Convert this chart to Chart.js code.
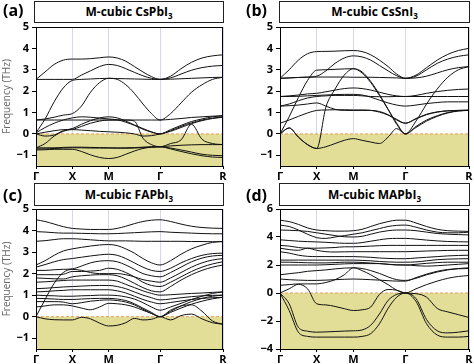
<!DOCTYPE html>
<html>
<head>
<meta charset="utf-8">
<script src="https://cdn.jsdelivr.net/npm/chart.js@4.4.0/dist/chart.umd.min.js"></script>
<style>
  body { margin: 0; width: 474px; height: 364px; background: #fff; position: relative; overflow: hidden; font-family: "Open Sans", sans-serif; }
  canvas { position: absolute; }
  .titulo { position: absolute; border: 1px solid #222; box-sizing: border-box; text-align: center; font-weight: bold; font-size: 12px; background: #fff; color: #000; }
  .titulo sub { font-size: 8px; line-height: 0; vertical-align: -3px; }
  .letra { position: absolute; font-weight: bold; font-size: 16px; line-height: 20px; color: #000; }
</style>
</head>
<body>
<canvas id="chartA" width="229" height="165" style="left:0;top:17px"></canvas>
<canvas id="chartB" width="238" height="165" style="left:237px;top:17px"></canvas>
<canvas id="chartC" width="229" height="166" style="left:0;top:199px"></canvas>
<canvas id="chartD" width="238" height="166" style="left:237px;top:199px"></canvas>

<div class="letra" style="left:3px;top:0">(a)</div>
<div class="letra" style="left:246px;top:0">(b)</div>
<div class="letra" style="left:3px;top:185px">(c)</div>
<div class="letra" style="left:246px;top:185px">(d)</div>
<div class="titulo" style="left:34px;top:1px;width:190px;height:22px;line-height:20px">M-cubic CsPbI<sub>3</sub></div>
<div class="titulo" style="left:279px;top:1px;width:191px;height:22px;line-height:20px">M-cubic CsSnI<sub>3</sub></div>
<div class="titulo" style="left:34px;top:183px;width:190px;height:23px;line-height:21px">M-cubic FAPbI<sub>3</sub></div>
<div class="titulo" style="left:279px;top:183px;width:191px;height:23px;line-height:21px">M-cubic MAPbI<sub>3</sub></div>

<script>
// Camino de alta simetría
const kLabels = ['Γ', 'X', 'M', 'Γ', 'R'];
const kNodes = [0, 1, 2, 2 + Math.SQRT2, 2 + Math.SQRT2 + Math.sqrt(3)];
const segSteps = [4, 4, 6, 6];

// Ticks del eje y
const ticksLow = [-1, 0, 1, 2, 3, 4, 5];
const ticksMA = [-4, -2, 0, 2, 4, 6];

const bandsCsPbI3 = [
  [2.55, 2.9, 3.25, 3.45, 3.5, 3.5, 3.52, 3.56, 3.6, 3.55, 3.4, 3.15, 2.9, 2.68, 2.55, 2.7, 3.05, 3.35, 3.55, 3.65, 3.7],
  [2.55, 2.55, 2.55, 2.55, 2.55, 2.75, 2.95, 3.15, 3.25, 3.2, 3.05, 2.88, 2.72, 2.6, 2.55, 2.62, 2.8, 2.98, 3.1, 3.17, 3.2],
  [0.05, 0.7, 1.5, 2.15, 2.5, 2.55, 2.57, 2.59, 2.6, 2.59, 2.58, 2.57, 2.56, 2.55, 2.55, 2.56, 2.58, 2.6, 2.62, 2.64, 2.65],
  [0.65, 0.7, 0.78, 0.88, 0.95, 1.3, 1.95, 2.4, 2.6, 2.55, 2.3, 1.9, 1.4, 0.95, 0.65, 0.95, 1.45, 1.95, 2.3, 2.55, 2.65],
  [0.65, 0.65, 0.65, 0.65, 0.65, 0.65, 0.65, 0.65, 0.65, 0.65, 0.65, 0.65, 0.65, 0.65, 0.65, 0.68, 0.72, 0.77, 0.8, 0.83, 0.85],
  [0.0, -0.1, -0.05, 0.15, 0.25, 0.45, 0.62, 0.75, 0.8, 0.75, 0.6, 0.42, 0.25, 0.1, 0.0, 0.2, 0.4, 0.58, 0.7, 0.8, 0.85],
  [0.05, 0.3, 0.5, 0.65, 0.75, 0.8, 0.78, 0.74, 0.7, 0.66, 0.55, 0.4, 0.22, 0.08, 0.0, 0.15, 0.35, 0.52, 0.65, 0.74, 0.8],
  [-0.65, -0.45, -0.1, 0.12, 0.2, 0.18, 0.15, 0.12, 0.1, 0.08, 0.05, 0.0, -0.1, -0.08, 0.0, 0.12, 0.3, 0.48, 0.62, 0.72, 0.78],
  [0.0, 0.08, 0.15, 0.2, 0.22, 0.35, 0.5, 0.6, 0.65, 0.65, 0.65, 0.6, -0.2, -0.5, -0.6, -0.45, -0.28, 0.45, -0.25, -0.45, -0.5],
  [-0.65, -0.65, -0.65, -0.63, -0.62, -0.62, -0.63, -0.64, -0.65, -0.66, -0.67, -0.66, -0.64, -0.62, -0.6, -0.56, -0.53, -0.51, -0.5, -0.5, -0.5],
  [-0.75, -0.74, -0.72, -0.72, -0.72, -0.82, -0.98, -1.1, -1.15, -1.1, -0.95, -0.8, -0.68, -0.62, -0.6, -0.7, -0.82, -0.93, -1.02, -1.08, -1.1],
  [-0.7, -0.7, -0.68, -0.66, -0.65, -0.65, -0.66, -0.66, -0.66, -0.66, -0.65, -0.64, -0.62, -0.6, -0.6, -0.66, -0.75, -0.85, -0.95, -1.0, -1.02]
];

const bandsCsSnI3 = [
  [2.6, 3.0, 3.45, 3.75, 3.85, 3.86, 3.87, 3.89, 3.9, 3.85, 3.7, 3.45, 3.15, 2.8, 2.6, 2.75, 3.1, 3.45, 3.72, 3.9, 4.0],
  [2.6, 2.62, 2.64, 2.66, 2.7, 2.95, 3.3, 3.55, 3.65, 3.6, 3.45, 3.2, 2.95, 2.72, 2.6, 2.7, 3.0, 3.3, 3.5, 3.63, 3.7],
  [2.6, 2.62, 2.64, 2.65, 2.66, 2.66, 2.66, 2.66, 2.65, 2.65, 2.65, 2.64, 2.63, 2.62, 2.6, 2.62, 2.7, 2.85, 3.0, 3.1, 3.15],
  [0.0, 0.8, 1.7, 2.5, 2.98, 3.0, 3.02, 3.04, 3.05, 2.9, 2.45, 1.85, 1.15, 0.45, 0.0, 0.6, 1.4, 2.1, 2.65, 3.0, 3.15],
  [0.0, 0.28, -0.15, -0.5, -0.68, 1.25, 2.1, 2.75, 3.05, 2.85, 2.4, 1.8, 1.15, 0.5, 0.0, 0.35, 0.65, 0.85, 1.0, 1.08, 1.1],
  [1.75, 1.78, 1.82, 1.87, 1.9, 1.97, 2.05, 2.12, 2.15, 2.12, 2.05, 1.95, 1.85, 1.78, 1.75, 1.8, 1.9, 1.98, 2.04, 2.08, 2.1],
  [1.75, 1.75, 1.76, 1.78, 1.8, 1.82, 1.84, 1.85, 1.85, 1.82, 1.72, 1.58, 1.45, 1.35, 1.3, 1.35, 1.42, 1.47, 1.5, 1.5, 1.5],
  [1.3, 1.4, 1.55, 1.68, 1.75, 1.78, 1.8, 1.8, 1.8, 1.78, 1.75, 1.74, 1.74, 1.75, 1.75, 1.75, 1.75, 1.75, 1.75, 1.75, 1.75],
  [1.3, 1.32, 1.35, 1.4, 1.45, 1.3, 1.15, 1.1, 1.1, 1.1, 1.1, 1.05, 0.9, 0.65, 0.5, 0.7, 0.9, 1.02, 1.08, 1.1, 1.1],
  [0.5, 0.65, 0.82, 0.98, 1.1, 1.12, 1.13, 1.13, 1.12, 1.12, 1.1, 1.02, 0.88, 0.68, 0.5, 0.72, 0.92, 1.03, 1.08, 1.1, 1.12],
  [0.0, 0.28, -0.15, -0.5, -0.68, -0.6, -0.45, -0.3, -0.22, -0.3, -0.38, -0.45, -0.15, 0.25, 0.0, 0.3, 0.6, 0.82, 0.98, 1.07, 1.1]
];

const bandsFAPbI3 = [
  [4.5, 4.42, 4.3, 4.18, 4.1, 4.07, 4.05, 4.05, 4.05, 4.1, 4.2, 4.32, 4.42, 4.48, 4.5, 4.42, 4.3, 4.2, 4.14, 4.11, 4.1],
  [3.95, 3.93, 3.9, 3.88, 3.88, 3.87, 3.86, 3.85, 3.85, 3.86, 3.88, 3.9, 3.92, 3.94, 3.95, 3.92, 3.9, 3.88, 3.86, 3.85, 3.85],
  [3.5, 3.53, 3.58, 3.62, 3.62, 3.6, 3.57, 3.54, 3.52, 3.52, 3.52, 3.51, 3.5, 3.5, 3.5, 3.5, 3.5, 3.49, 3.49, 3.48, 3.48],
  [2.4, 2.6, 2.85, 3.05, 3.15, 3.22, 3.28, 3.33, 3.35, 3.3, 3.15, 2.95, 2.7, 2.5, 2.4, 2.6, 2.9, 3.15, 3.32, 3.45, 3.5],
  [2.3, 2.42, 2.55, 2.65, 2.7, 2.76, 2.82, 2.87, 2.9, 2.85, 2.7, 2.5, 2.3, 2.15, 2.1, 2.25, 2.5, 2.7, 2.85, 2.93, 2.95],
  [2.15, 2.15, 2.18, 2.2, 2.22, 2.35, 2.5, 2.58, 2.6, 2.55, 2.4, 2.2, 2.0, 1.9, 1.85, 2.05, 2.3, 2.55, 2.72, 2.82, 2.85],
  [0.0, 0.8, 1.55, 2.05, 2.2, 2.15, 2.05, 2.0, 2.0, 2.0, 1.95, 1.85, 1.72, 1.65, 1.6, 1.8, 2.05, 2.3, 2.5, 2.63, 2.7],
  [1.95, 1.95, 1.95, 1.97, 2.1, 2.1, 2.12, 2.15, 2.25, 2.2, 2.05, 1.85, 1.6, 1.45, 1.4, 1.6, 1.85, 2.1, 2.3, 2.45, 2.55],
  [1.8, 1.78, 1.76, 1.75, 1.85, 1.9, 1.93, 1.95, 1.95, 1.9, 1.75, 1.55, 1.35, 1.2, 1.15, 1.4, 1.7, 1.95, 2.15, 2.3, 2.4],
  [1.6, 1.62, 1.65, 1.68, 1.7, 1.7, 1.7, 1.7, 1.7, 1.65, 1.5, 1.35, 1.2, 1.08, 1.0, 1.02, 1.05, 1.08, 1.1, 1.13, 1.15],
  [1.3, 1.32, 1.35, 1.38, 1.4, 1.42, 1.44, 1.45, 1.45, 1.4, 1.3, 1.15, 1.0, 0.88, 0.78, 0.82, 0.88, 0.93, 0.97, 0.99, 1.0],
  [1.15, 1.17, 1.2, 1.22, 1.25, 1.25, 1.25, 1.25, 1.25, 1.2, 1.1, 0.95, 0.8, 0.68, 0.6, 0.66, 0.73, 0.8, 0.85, 0.88, 0.9],
  [1.0, 0.98, 0.97, 0.95, 0.95, 0.97, 0.98, 1.0, 1.0, 0.98, 0.92, 0.82, 0.65, 0.45, 0.3, 0.45, 0.62, 0.8, 0.95, 1.08, 1.15],
  [0.85, 0.84, 0.82, 0.8, 0.8, 0.82, 0.84, 0.85, 0.85, 0.82, 0.75, 0.6, 0.4, 0.2, 0.0, 0.25, 0.5, 0.7, 0.85, 0.95, 1.0],
  [0.7, 0.7, 0.7, 0.68, 0.6, 0.65, 0.72, 0.76, 0.78, 0.75, 0.68, 0.55, 0.35, 0.15, 0.0, 0.2, 0.4, 0.58, 0.72, 0.83, 0.9],
  [0.45, 0.5, 0.55, 0.55, 0.5, 0.4, 0.32, 0.45, 0.62, 0.6, 0.55, 0.45, 0.3, 0.15, 0.0, 0.3, 0.5, 0.55, 0.25, -0.2, -0.35],
  [0.0, -0.1, -0.14, -0.15, -0.15, -0.03, -0.1, -0.3, -0.43, -0.4, -0.28, -0.08, -0.15, -0.12, 0.0, -0.15, 0.05, 0.12, -0.1, -0.28, -0.35]
];

const bandsMAPbI3 = [
  [5.2, 5.1, 4.9, 4.65, 4.5, 4.45, 4.42, 4.42, 4.45, 4.55, 4.75, 4.95, 5.1, 5.2, 5.2, 5.0, 4.75, 4.55, 4.45, 4.42, 4.4],
  [4.85, 4.75, 4.5, 4.2, 3.95, 3.9, 4.0, 4.1, 4.2, 4.3, 4.45, 4.6, 4.75, 4.83, 4.85, 4.7, 4.5, 4.35, 4.3, 4.3, 4.35],
  [4.5, 4.48, 4.45, 4.4, 4.3, 4.2, 4.1, 4.02, 4.0, 4.05, 4.2, 4.35, 4.45, 4.5, 4.5, 4.45, 4.35, 4.25, 4.2, 4.17, 4.15],
  [3.8, 3.75, 3.7, 3.67, 3.65, 3.62, 3.58, 3.55, 3.55, 3.6, 3.7, 3.8, 3.88, 3.9, 3.9, 3.85, 3.78, 3.72, 3.68, 3.66, 3.65],
  [3.4, 3.35, 3.25, 3.2, 3.2, 3.22, 3.25, 3.3, 3.3, 3.32, 3.35, 3.38, 3.4, 3.4, 3.4, 3.4, 3.4, 3.4, 3.4, 3.4, 3.4],
  [3.2, 3.1, 3.05, 3.2, 3.05, 2.95, 2.93, 2.94, 2.95, 2.95, 2.95, 2.95, 2.95, 2.95, 2.95, 2.97, 3.0, 3.02, 3.04, 3.05, 3.05],
  [2.95, 2.85, 2.7, 2.62, 2.6, 2.6, 2.6, 2.6, 2.6, 2.58, 2.55, 2.5, 2.47, 2.45, 2.45, 2.5, 2.55, 2.6, 2.65, 2.68, 2.7],
  [2.35, 2.35, 2.35, 2.35, 2.35, 2.35, 2.35, 2.35, 2.35, 2.33, 2.3, 2.25, 2.22, 2.2, 2.2, 2.22, 2.3, 2.38, 2.42, 2.44, 2.45],
  [2.2, 2.2, 2.18, 2.16, 2.15, 2.15, 2.17, 2.2, 2.2, 2.18, 2.14, 2.1, 2.05, 2.02, 2.0, 2.05, 2.12, 2.17, 2.2, 2.2, 2.2],
  [2.0, 2.0, 2.0, 2.0, 2.0, 2.02, 2.05, 2.08, 2.1, 2.1, 2.1, 2.1, 2.05, 2.0, 2.0, 1.95, 1.92, 1.95, 2.0, 2.05, 2.1],
  [1.3, 1.38, 1.45, 1.55, 1.6, 1.65, 1.72, 1.78, 1.8, 1.75, 1.6, 1.4, 1.15, 0.95, 0.9, 1.05, 1.3, 1.5, 1.65, 1.75, 1.8],
  [1.0, 0.95, 0.92, 0.9, 0.9, 0.92, 0.95, 0.98, 1.0, 0.98, 0.95, 0.92, 0.88, 0.85, 0.85, 1.1, 1.35, 1.55, 1.68, 1.73, 1.75],
  [0.55, 0.6, 0.65, 0.65, 0.65, 0.75, 0.95, 1.3, 1.8, 1.6, 1.3, 0.95, 0.6, 0.2, 0.0, 0.3, 0.6, 0.85, 1.05, 1.18, 1.25],
  [0.0, 0.3, 0.62, 0.3, -0.77, -0.85, -0.96, -1.12, -1.25, -1.2, -1.0, -0.1, 0.25, 0.2, 0.0, -0.05, -0.3, -1.1, -1.35, -1.55, -1.75],
  [0.0, -0.77, -2.45, -2.73, -2.8, -2.78, -2.75, -2.72, -2.7, -2.64, -2.3, -1.5, -0.53, -0.1, 0.0, -0.4, -1.9, -2.7, -2.85, -2.8, -2.7],
  [0.0, -1.25, -2.8, -3.1, -3.15, -3.15, -3.15, -3.15, -3.15, -3.1, -2.9, -2.2, -1.1, -0.3, 0.0, -0.6, -2.2, -3.0, -3.15, -3.15, -3.1]
];

// posiciones k de las muestras a lo largo del camino
const kSamples = [0];
segSteps.forEach(function(n, s) {
  for (let j = 1; j <= n; j++) {
    kSamples.push(kNodes[s] + (kNodes[s + 1] - kNodes[s]) * j / n);
  }
});

Chart.defaults.font.family = '"Open Sans", sans-serif';

// marco negro alrededor del área del gráfico
const marco = {
  id: 'marco',
  afterDraw(chart) {
    const ctx = chart.ctx;
    const a = chart.chartArea;
    ctx.save();
    ctx.strokeStyle = '#000';
    ctx.lineWidth = 1;
    ctx.strokeRect(Math.round(a.left) + 0.5, Math.round(a.top) + 0.5, Math.round(a.right - a.left) - 1, Math.round(a.bottom - a.top));
    ctx.restore();
  }
};

function crearGrafico(id, bands, yMin, yMax, yTicks, conTitulo, anchoY) {
  const datasets = bands.map(function(b) {
    return {
      data: b.map(function(v, i) { return {x: kSamples[i], y: v}; }),
      borderColor: '#111',
      borderWidth: 1,
      pointRadius: 0,
      fill: false,
      cubicInterpolationMode: 'monotone'
    };
  });
  // zona amarilla de frecuencias imaginarias y línea de cero
  datasets.push({
    data: [{x: kNodes[0], y: 0}, {x: kNodes[4], y: 0}],
    borderColor: '#e99d55',
    borderWidth: 1,
    borderDash: [3, 2],
    backgroundColor: '#e2de98',
    fill: 'start',
    pointRadius: 0,
    order: 10
  });

  return new Chart(document.getElementById(id), {
    type: 'line',
    data: { datasets: datasets },
    options: {
      responsive: false,
      animation: false,
      events: [],
      layout: { padding: { top: 10, right: 6, left: 0, bottom: 0 } },
      plugins: { legend: { display: false }, tooltip: { enabled: false } },
      scales: {
        x: {
          type: 'linear',
          min: kNodes[0],
          max: kNodes[4],
          afterBuildTicks: function(s) { s.ticks = kNodes.map(function(v) { return {value: v}; }); },
          afterFit: function(s) { s.height = 16; },
          ticks: {
            autoSkip: false, maxRotation: 0, padding: 1, color: '#000',
            font: { size: 11, weight: 'bold' },
            callback: function(v, i) { return kLabels[i]; }
          },
          grid: { color: '#d6d6f2', tickColor: '#000', tickLength: 3 },
          border: { display: false }
        },
        y: {
          min: yMin,
          max: yMax,
          afterBuildTicks: function(s) { s.ticks = yTicks.map(function(v) { return {value: v}; }); },
          afterFit: function(s) { s.width = anchoY; },
          ticks: {
            padding: 3, color: '#000',
            font: { size: 11, weight: 'bold' },
            callback: function(v) { return String(v).replace('-', '\u2212'); }
          },
          grid: { drawOnChartArea: false, tickColor: '#000', tickLength: 4 },
          border: { display: false },
          title: {
            display: conTitulo, text: 'Frequency (THz)', color: '#666',
            font: { size: 10 }, padding: { top: 1, bottom: 0 }
          }
        }
      }
    },
    plugins: [marco]
  });
}

crearGrafico('chartA', bandsCsPbI3, -1.5, 5, ticksLow, true, 36);
crearGrafico('chartB', bandsCsSnI3, -1.5, 5, ticksLow, false, 43);
crearGrafico('chartC', bandsFAPbI3, -1.5, 5, ticksLow, true, 36);
crearGrafico('chartD', bandsMAPbI3, -4, 6, ticksMA, false, 43);
</script>
</body>
</html>
